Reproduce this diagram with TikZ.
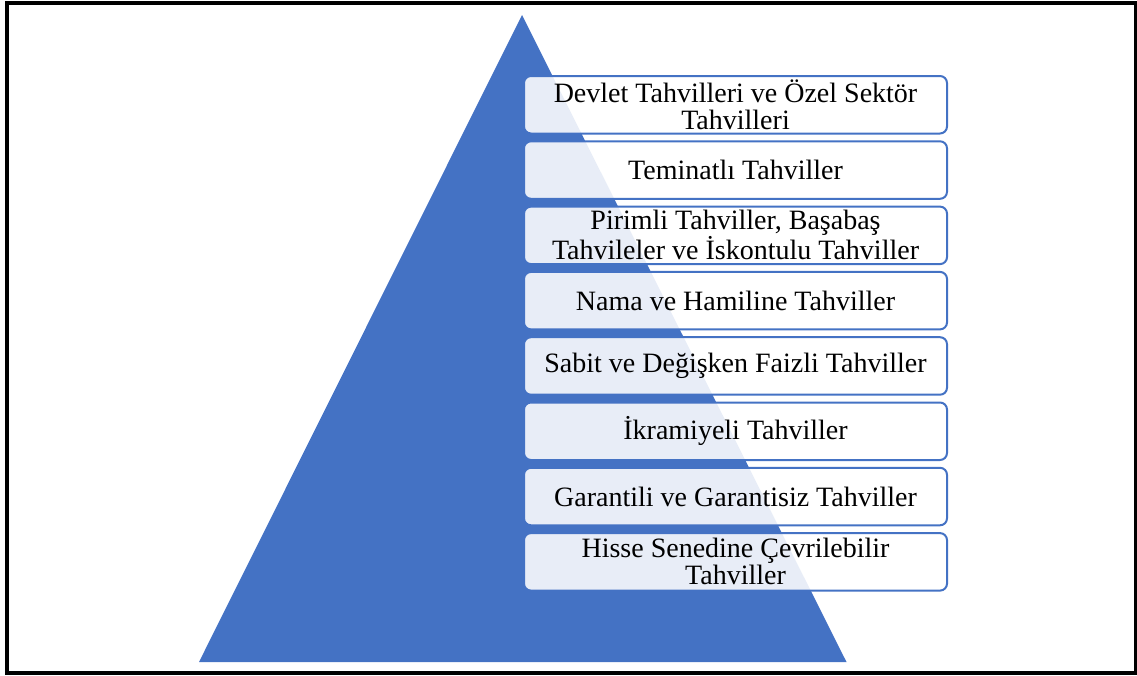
\documentclass[tikz,border=0pt]{standalone}
\usepackage{fontspec}
\setmainfont{Liberation Serif}
\definecolor{pyrblue}{HTML}{4472C4}
\begin{document}
\begin{tikzpicture}[x=1pt,y=-1pt,
  level/.style={rectangle, rounded corners=7pt, draw=pyrblue, line width=2pt,
    fill=white, fill opacity=0.88, text opacity=1, text=black,
    minimum width=423pt, minimum height=57.5pt, inner sep=0pt, align=center,
    font=\fontsize{28}{27}\selectfont}]
  \useasboundingbox (0,0) rectangle (1137,675);
  % outer frame
  \draw[line width=4pt] (7,3) rectangle (1135.5,673);
  % pyramid
  \coordinate (apex) at (522,15);
  \coordinate (baseL) at (199,662);
  \coordinate (baseR) at (846.5,662);
  \fill[pyrblue] (apex) -- (baseR) -- (baseL) -- cycle;
  % levels
  \node[level] (l1) at (735.5,104.75) {Devlet Tahvilleri ve Özel Sektör\\Tahvilleri};
  \node[level] (l2) at (735.5,170.05) {Teminatlı Tahviller};
  \node[level] (l3) at (735.5,235.35) {Pirimli Tahviller, Başabaş\\Tahvileler ve İskontulu Tahviller};
  \node[level] (l4) at (735.5,300.65) {Nama ve Hamiline Tahviller};
  \node[level] (l5) at (735.5,365.95) {Sabit ve Değişken Faizli Tahviller};
  \node[level] (l6) at (735.5,431.25) {İkramiyeli Tahviller};
  \node[level] (l7) at (735.5,496.55) {Garantili ve Garantisiz Tahviller};
  \node[level] (l8) at (735.5,561.85) {Hisse Senedine Çevrilebilir\\Tahviller};
\end{tikzpicture}
\end{document}
